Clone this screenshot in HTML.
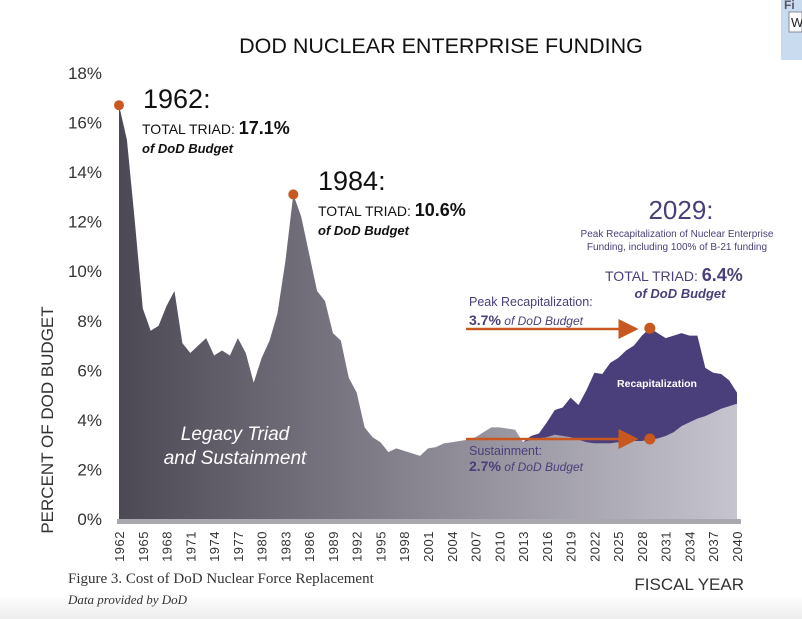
<!DOCTYPE html>
<html><head><meta charset="utf-8"><style>
body{margin:0;background:#fff;width:802px;height:619px;overflow:hidden;font-family:"Liberation Sans","DejaVu Sans",sans-serif}
svg{display:block}
</style></head><body>
<svg id="chart" width="802" height="619" viewBox="0 0 802 619">
<defs>
<linearGradient id="leg" x1="0" x2="1" y1="0" y2="0">
<stop offset="0" stop-color="#4c4854"/><stop offset="0.5" stop-color="#8a8792"/><stop offset="1" stop-color="#c6c4ce"/>
</linearGradient>
<linearGradient id="foot" x1="0" x2="0" y1="0" y2="1"><stop offset="0" stop-color="#fff"/><stop offset="1" stop-color="#ececec"/></linearGradient>
<marker id="ah" markerWidth="8" markerHeight="8" refX="7" refY="4" orient="auto"><path d="M0,0 L8,4 L0,8 z" fill="#c8581f"/></marker>
</defs>
<rect x="0" y="595" width="802" height="24" fill="url(#foot)"/>
<g id="marks"></g>
<g id="axes"></g>
<text x="441" y="53" text-anchor="middle" font-size="21.5" fill="#111">DOD NUCLEAR ENTERPRISE FUNDING</text>
<text transform="translate(53,420) rotate(-90)" text-anchor="middle" font-size="17" fill="#333">PERCENT OF DOD BUDGET</text>
<text x="744" y="590" text-anchor="end" font-size="17" fill="#333">FISCAL YEAR</text>
<text x="68" y="583" font-family="Liberation Serif,serif" font-size="15" fill="#333">Figure 3. Cost of DoD Nuclear Force Replacement</text>
<text x="68" y="604" font-family="Liberation Serif,serif" font-style="italic" font-size="13" fill="#333">Data provided by DoD</text>

<g>
<text x="143" y="108" font-size="27" fill="#111">1962:</text>
<text x="142" y="134" font-size="14" fill="#111">TOTAL TRIAD: <tspan font-weight="bold" font-size="18">17.1%</tspan></text>
<text x="142" y="153" font-size="13" font-style="italic" font-weight="bold" fill="#111">of DoD Budget</text>
</g>
<g>
<text x="318" y="190" font-size="27" fill="#111">1984:</text>
<text x="318" y="216" font-size="14" fill="#111">TOTAL TRIAD: <tspan font-weight="bold" font-size="18">10.6%</tspan></text>
<text x="318" y="235" font-size="13" font-style="italic" font-weight="bold" fill="#111">of DoD Budget</text>
</g>
<g fill="#4a3f7a">
<text x="681" y="219" text-anchor="middle" font-size="26">2029:</text>
<text x="677" y="237" text-anchor="middle" font-size="10">Peak Recapitalization of Nuclear Enterprise</text>
<text x="677" y="250" text-anchor="middle" font-size="10">Funding, including 100% of B-21 funding</text>
<text x="605" y="281" font-size="14">TOTAL TRIAD: <tspan font-weight="bold" font-size="18">6.4%</tspan></text>
<text x="680" y="298" text-anchor="middle" font-size="13" font-style="italic" font-weight="bold">of DoD Budget</text>
</g>
<g fill="#4a3f7a">
<text x="469" y="306" font-size="12.5">Peak Recapitalization:</text>
<text x="469" y="325" font-size="12"><tspan font-weight="bold" font-size="14">3.7%</tspan> <tspan font-style="italic">of DoD Budget</tspan></text>
</g>
<g fill="#4a3f7a">
<text x="469" y="455" font-size="12.5">Sustainment:</text>
<text x="469" y="471" font-size="12"><tspan font-weight="bold" font-size="14">2.7%</tspan> <tspan font-style="italic">of DoD Budget</tspan></text>
</g>
<line x1="466" y1="329" x2="636" y2="329" stroke="#c8581f" stroke-width="2.5" marker-end="url(#ah)"/>
<line x1="466" y1="439" x2="636" y2="439" stroke="#c8581f" stroke-width="2.5" marker-end="url(#ah)"/>
<text x="657" y="387" text-anchor="middle" font-size="10.5" font-weight="bold" fill="#fff">Recapitalization</text>
<text x="235" y="440" text-anchor="middle" font-size="19" font-style="italic" fill="#fff">Legacy Triad</text>
<text x="235" y="464" text-anchor="middle" font-size="19" font-style="italic" fill="#fff">and Sustainment</text>

<g>
<rect x="781" y="0" width="21" height="60" fill="#c9dcef"/>
<text x="784" y="9" font-size="12" font-weight="bold" fill="#556">Fi</text>
<rect x="789" y="12" width="13" height="20" fill="#fff" stroke="#889"/>
<text x="791" y="27" font-size="13" fill="#222">W</text>
</g>
</svg>
<script>
const startYear = 1962;
const legacy = [16.7,15.3,12.0,8.5,7.6,7.8,8.6,9.2,7.1,6.7,7.0,7.3,6.6,6.8,6.6,7.3,6.7,5.5,6.5,7.2,8.3,10.4,13.1,12.2,10.7,9.2,8.8,7.5,7.2,5.7,5.1,3.7,3.3,3.1,2.7,2.85,2.75,2.65,2.55,2.85,2.9,3.05,3.1,3.15,3.2,3.3,3.5,3.7,3.7,3.65,3.6,3.1,3.2,3.25,3.3,3.4,3.35,3.3,3.2,3.1,3.05,3.05,3.05,3.1,3.1,3.15,3.15,3.2,3.25,3.35,3.5,3.75,3.9,4.05,4.15,4.3,4.45,4.55,4.65];
const recapStart = 2013;
const total = [3.1,3.35,3.45,3.9,4.4,4.5,4.9,4.6,5.2,5.9,5.85,6.3,6.5,6.8,7.0,7.4,7.7,7.5,7.3,7.4,7.5,7.4,7.4,6.1,5.9,5.85,5.6,5.1];
const yTicks = [0,2,4,6,8,10,12,14,16,18];
const highlightYears = [1962,1984];
const ns = "http://www.w3.org/2000/svg";
const x = y => 119 + (y - 1962) * (737 - 119) / 78;
const yv = v => 519 - v * (519 - 73) / 18;
const marks = document.getElementById('marks'), axes = document.getElementById('axes');
function mk(tag, attrs, parent){const e=document.createElementNS(ns,tag);for(const k in attrs)e.setAttribute(k,attrs[k]);parent.appendChild(e);return e;}
let d = '';
total.forEach((v,i)=>{d += (i?'L':'M') + x(recapStart+i) + ',' + yv(v);});
for(let i=total.length-1;i>=0;i--){const yr=recapStart+i;d+='L'+x(yr)+','+yv(legacy[yr-startYear]);}
let d2 = 'M' + x(startYear) + ',' + yv(0);
legacy.forEach((v,i)=>{d2 += 'L' + x(startYear+i) + ',' + yv(v);});
d2 += 'L' + x(startYear+legacy.length-1) + ',' + yv(0) + 'Z';
const la = mk('path',{d:d2,fill:'url(#leg)'},marks);


const ra = mk('path',{d:d+'Z',fill:'#4a3f7a'},marks);


const base = mk('rect',{x:x(startYear)-2,y:yv(0),width:x(2040)-x(1962)+6,height:5,fill:'#a9a8ae'},marks);


highlightYears.forEach(yr=>{
  const c = mk('circle',{cx:x(yr),cy:yv(legacy[yr-startYear]),r:5,fill:'#c8581f'},marks);
  
  
});
const pk = mk('circle',{cx:x(2029),cy:yv(total[2029-recapStart]),r:5.5,fill:'#c8581f'},marks);


const sd = mk('circle',{cx:x(2029),cy:439,r:5.5,fill:'#c8581f'},marks);


yTicks.forEach(t=>{
  const tx = mk('text',{x:102,y:yv(t)+6,'text-anchor':'end','font-size':17,fill:'#333'},axes);
  tx.textContent = t + '%';
  
  
});
for(let yr=1962; yr<=2040; yr+=3){
  const tx = mk('text',{transform:'translate('+(x(yr)+5)+',531) rotate(-90)','text-anchor':'end','font-size':13,fill:'#333','letter-spacing':'0.5'},axes);
  tx.textContent = yr;
  
  
}
</script>
</body></html>
